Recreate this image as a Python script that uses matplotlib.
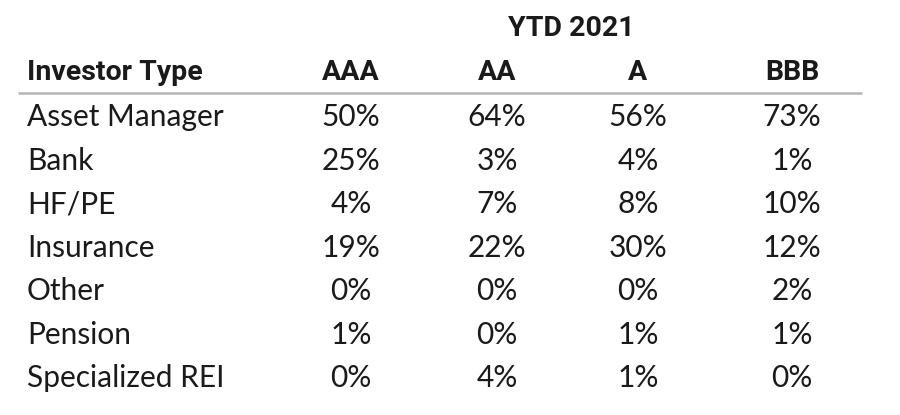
import matplotlib
matplotlib.use("Agg")
import matplotlib.pyplot as plt

title = "YTD 2021"
row_header = "Investor Type"
columns = ["AAA", "AA", "A", "BBB"]
investor_types = ["Asset Manager", "Bank", "HF/PE", "Insurance", "Other", "Pension", "Specialized REI"]
aaa = [50, 25, 4, 19, 0, 1, 0]
aa = [64, 3, 7, 22, 0, 0, 4]
a = [56, 4, 8, 30, 0, 1, 1]
bbb = [73, 1, 10, 12, 2, 1, 0]

W, H = 900, 415
fig = plt.figure(figsize=(W / 100, H / 100), dpi=100)
ax = fig.add_axes([0, 0, 1, 1])
ax.set_xlim(0, W)
ax.set_ylim(H, 0)
ax.axis("off")

txt = "#1a1a1a"
body_font = ["Lato", "DejaVu Sans"]
head_font = ["Roboto", "DejaVu Sans"]

col_x = [351, 497, 638, 792]
row_y0, row_dy = 117, 43.5
label_x = 27

ax.text((col_x[0] + col_x[-1]) / 2, 28, title, ha="center", va="center",
        fontsize=20.5, fontweight="bold", family=head_font, color=txt)
ax.text(label_x, 73, row_header, ha="left", va="center",
        fontsize=20.5, fontweight="bold", family=head_font, color=txt)
for x, c in zip(col_x, columns):
    ax.text(x, 73, c, ha="center", va="center", fontsize=20.5,
            fontweight="bold", family=head_font, color=txt)

ax.plot([18, 862], [93, 93], color="#b5b5b5", lw=1.8, solid_capstyle="butt")

series = [aaa, aa, a, bbb]
for i, name in enumerate(investor_types):
    y = row_y0 + i * row_dy
    ax.text(label_x, y, name, ha="left", va="center", fontsize=21.5,
            family=body_font, color=txt)
    for x, s in zip(col_x, series):
        ax.text(x, y, f"{s[i]}%", ha="center", va="center", fontsize=21.5,
                family=body_font, color=txt)

fig.savefig("out.png", dpi=100, facecolor="white")
